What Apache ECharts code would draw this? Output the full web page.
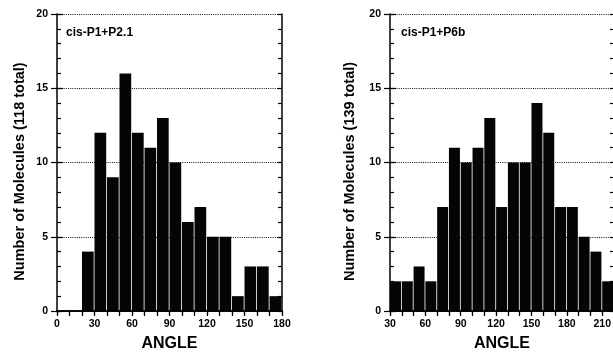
<!DOCTYPE html>
<html>
<head>
<meta charset="utf-8">
<script src="https://cdn.jsdelivr.net/npm/echarts@6/dist/echarts.min.js"></script>
<style>
html,body{margin:0;padding:0;background:#fff;}
#chart{width:613px;height:352px;}
</style>
</head>
<body>
<div id="chart"></div>
<script>
// ---- data ----
const binWidth = 10;
const leftTitle = 'cis-P1+P2.1';
const leftYName = 'Number of Molecules (118 total)';
const leftBinStarts = [20, 30, 40, 50, 60, 70, 80, 90, 100, 110, 120, 130, 140, 150, 160, 170];
const leftCounts    = [4, 12, 9, 16, 12, 11, 13, 10, 6, 7, 5, 5, 1, 3, 3, 1];
const leftXRange = [0, 180];

const rightTitle = 'cis-P1+P6b';
const rightYName = 'Number of Molecules (139 total)';
const rightBinStarts = [30, 40, 50, 60, 70, 80, 90, 100, 110, 120, 130, 140, 150, 160, 170, 180, 190, 200, 210];
const rightCounts    = [2, 2, 3, 2, 7, 11, 10, 11, 13, 7, 10, 10, 14, 12, 7, 7, 5, 4, 2];
const rightXRange = [30, 220];
const rightLastLabel = 210;

const yRange = [0, 20];
const yLabelStep = 5;
const xLabelStep = 30;
const xName = 'ANGLE';

// ---- chart ----
const FONT = '"Liberation Sans", Arial, sans-serif';
const BLACK = '#000';

function histData(starts, counts) {
  return starts.map((s, i) => [s, s + binWidth, counts[i]]);
}

function renderBar(params, api) {
  const x0 = api.value(0), x1 = api.value(1), v = api.value(2);
  const pTop = api.coord([x0, v]);
  const pBot = api.coord([x1, 0]);
  return {
    type: 'rect',
    shape: { x: pTop[0], y: pTop[1], width: Math.max(0, pBot[0] - pTop[0] - 0.8), height: pBot[1] - pTop[1] },
    style: { fill: '#050505' }
  };
}

const grids = [
  { left: 57, top: 14, width: 225, height: 297, containLabel: false, outerBoundsMode: 'none' },
  { left: 390, top: 14, width: 224, height: 297, containLabel: false, outerBoundsMode: 'none' }
];

const xAxes = [];
const yAxes = [];
const series = [];

function addPanel(gi, xr, yName, nameGapY, maxLabel, data) {
  const lineStyle = { color: BLACK, width: 1.5 };
  const base = xAxes.length;
  // bottom x axis
  xAxes.push({
    type: 'value', gridIndex: gi, position: 'bottom', min: xr[0], max: xr[1], interval: binWidth, z: 5,
    axisLine: { show: true, lineStyle },
    axisTick: { show: true, inside: false, length: 4, lineStyle: { color: BLACK, width: 1.2 } },
    axisLabel: {
      margin: 8, color: BLACK, fontFamily: FONT, fontWeight: 'bold', fontSize: 10.5,
      formatter: v => (v % xLabelStep === 0 && v <= maxLabel) ? String(v) : ''
    },
    splitLine: { show: false },
    name: xName, nameLocation: 'middle', nameGap: 25,
    nameTextStyle: { color: BLACK, fontFamily: FONT, fontWeight: 'bold', fontSize: 16 }
  });
  // top x axis
  xAxes.push({
    type: 'value', gridIndex: gi, position: 'top', min: xr[0], max: xr[1], interval: binWidth, z: 5,
    axisLine: { show: true, lineStyle },
    axisTick: { show: true, inside: true, length: 5, lineStyle: { color: BLACK, width: 1.2 } },
    axisLabel: { show: false }, splitLine: { show: false }
  });
  const yb = yAxes.length;
  // left main: labels, outer major ticks, grid lines
  yAxes.push({
    type: 'value', gridIndex: gi, position: 'left', min: yRange[0], max: yRange[1], interval: yLabelStep, z: 0,
    axisLine: { show: false },
    axisTick: { show: true, inside: false, length: 6, lineStyle: { color: BLACK, width: 1.2 } },
    axisLabel: { margin: 9, color: BLACK, fontFamily: FONT, fontWeight: 'bold', fontSize: 10.5 },
    splitLine: { show: true, lineStyle: { color: '#111', width: 1, type: [1, 1.2] } },
    name: yName, nameLocation: 'middle', nameGap: nameGapY,
    nameTextStyle: { color: BLACK, fontFamily: FONT, fontWeight: 'bold', fontSize: 14.5, padding: [0, 18, 0, 0] }
  });
  // left: axis line + inner minor ticks
  yAxes.push({
    type: 'value', gridIndex: gi, position: 'left', min: yRange[0], max: yRange[1], interval: 1, z: 5,
    axisLine: { show: true, lineStyle },
    axisTick: { show: true, inside: true, length: 4, lineStyle: { color: BLACK, width: 1.2 } },
    axisLabel: { show: false }, splitLine: { show: false }
  });
  // left: inner major ticks
  yAxes.push({
    type: 'value', gridIndex: gi, position: 'left', min: yRange[0], max: yRange[1], interval: yLabelStep, z: 5,
    axisLine: { show: false },
    axisTick: { show: true, inside: true, length: 6, lineStyle: { color: BLACK, width: 1.2 } },
    axisLabel: { show: false }, splitLine: { show: false }
  });
  // right axis
  yAxes.push({
    type: 'value', gridIndex: gi, position: 'right', min: yRange[0], max: yRange[1], interval: 1, z: 5,
    axisLine: { show: true, lineStyle },
    axisTick: { show: true, inside: true, length: 4, lineStyle: { color: BLACK, width: 1.2 } },
    axisLabel: { show: false }, splitLine: { show: false }
  });
  series.push({
    type: 'custom', xAxisIndex: base, yAxisIndex: yb, z: 2,
    renderItem: renderBar,
    encode: { x: [0, 1], y: 2 },
    data: data,
    silent: true
  });
}

addPanel(0, leftXRange, leftYName, 30, leftXRange[1], histData(leftBinStarts, leftCounts));
addPanel(1, rightXRange, rightYName, 33, rightLastLabel, histData(rightBinStarts, rightCounts));

const chart = echarts.init(document.getElementById('chart'), null, { renderer: 'canvas' });
chart.setOption({
  animation: false,
  backgroundColor: '#fff',
  title: [
    { text: leftTitle, left: 66, top: 27, padding: 0,
      textStyle: { color: BLACK, fontFamily: FONT, fontWeight: 'bold', fontSize: 12 } },
    { text: rightTitle, left: 401, top: 27, padding: 0,
      textStyle: { color: BLACK, fontFamily: FONT, fontWeight: 'bold', fontSize: 12 } }
  ],
  grid: grids,
  xAxis: xAxes,
  yAxis: yAxes,
  series: series
});
</script>
</body>
</html>
